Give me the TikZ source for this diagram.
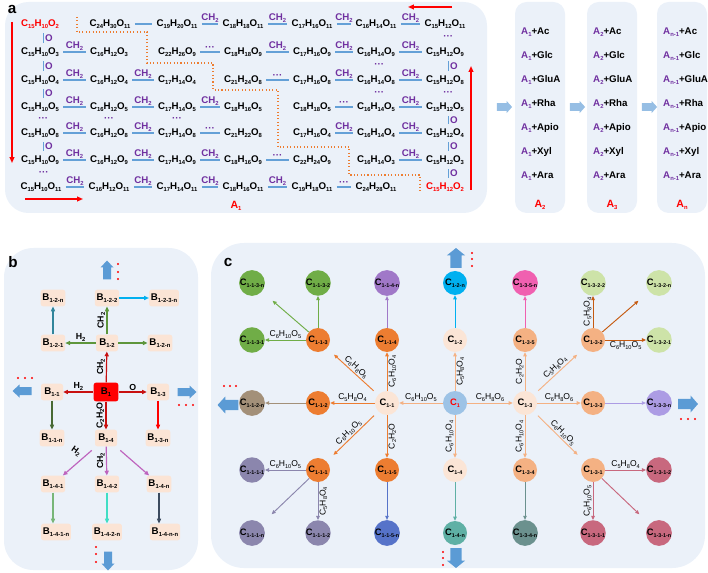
\documentclass[tikz,border=0pt]{standalone}
\usepackage{fontspec}
\setmainfont{Liberation Sans}
\usetikzlibrary{arrows.meta, positioning}

\definecolor{panelbg}{RGB}{235,241,249}
\definecolor{lineblue}{RGB}{100,160,215}
\definecolor{chpurple}{RGB}{112,48,160}
\definecolor{arrowlight}{RGB}{150,190,228}
\definecolor{blockblue}{RGB}{91,155,213}
\definecolor{dotorange}{RGB}{237,125,49}
% panel b
\definecolor{bpeach}{RGB}{251,228,213}
\definecolor{bred}{RGB}{200,16,16}
\definecolor{bgreen}{RGB}{94,150,60}
\definecolor{bteal}{RGB}{49,133,155}
\definecolor{bcyan}{RGB}{0,176,240}
\definecolor{bdkgreen}{RGB}{72,105,52}
\definecolor{bpurple}{RGB}{190,100,190}
\definecolor{blgreen}{RGB}{120,182,120}
\definecolor{bturq}{RGB}{64,222,196}
\definecolor{bslate}{RGB}{60,75,95}
% panel c
\definecolor{cblue}{RGB}{157,195,230}
\definecolor{cpeach}{RGB}{251,229,214}
\definecolor{corange}{RGB}{237,125,49}
\definecolor{corlight}{RGB}{244,177,131}
\definecolor{cgreen}{RGB}{112,173,71}
\definecolor{cviolet}{RGB}{160,120,200}
\definecolor{ccyan}{RGB}{0,176,240}
\definecolor{cpink}{RGB}{240,96,176}
\definecolor{clime}{RGB}{205,227,168}
\definecolor{cdkorange}{RGB}{197,90,17}
\definecolor{ctaupe}{RGB}{163,144,121}
\definecolor{clav}{RGB}{172,156,228}
\definecolor{cgrape}{RGB}{139,134,173}
\definecolor{croyal}{RGB}{86,115,201}
\definecolor{cteal}{RGB}{95,176,165}
\definecolor{cslate}{RGB}{107,145,142}
\definecolor{crose}{RGB}{200,104,126}

\newcommand\ix[2][5]{\raisebox{-0.35ex}{\fontsize{#1}{#1}\selectfont #2}}
\newcommand\fml[3]{C\ix{#1}H\ix{#2}O\ix{#3}}
\newcommand\cf[3]{C\ix[4.8]{#1}H\ix[4.8]{#2}O\ix[4.8]{#3}}

\begin{document}
\begin{tikzpicture}[x=0.03cm, y=-0.03cm,
  every node/.style={font=\fontsize{8.3}{9}\selectfont\bfseries},
  form/.style={inner sep=1pt},
  lnk/.style={draw=lineblue, line width=1.2pt, shorten <=2.5pt, shorten >=2.5pt},
  ch/.style={midway, above, inner sep=0.6pt, text=chpurple},
  vlnk/.style={draw=lineblue, line width=1.2pt, shorten <=3pt, shorten >=3pt},
  ox/.style={midway, right, inner sep=1pt, text=chpurple},
  vdots/.style={midway, inner sep=0pt, text=chpurple},
  redarrow/.style={red, line width=1.2pt, -{Triangle[length=5pt,width=4pt]}},
  stair/.style={dotorange, dotted, line width=0.9pt},
  alist/.style={anchor=west, inner sep=0pt},
  redlab/.style={text=red, font=\fontsize{9}{10}\selectfont\bfseries},
  panellab/.style={font=\fontsize{13}{13}\selectfont\bfseries},
  bn/.style={fill=bpeach, rounded corners=2pt, minimum height=0.5cm,
             minimum width=0.66cm, inner sep=1.5pt},
  barrow/.style={-{Triangle[length=4pt,width=3.5pt]}, line width=1pt},
  blbl/.style={font=\fontsize{7.5}{8}\selectfont\bfseries, inner sep=1pt, text=black},
  cn/.style={circle, minimum size=0.72cm, inner sep=0pt,
             font=\fontsize{8}{8}\selectfont\bfseries},
  carrow/.style={-{Triangle[length=3.5pt,width=3pt]}, line width=0.8pt},
  clbl/.style={font=\fontsize{7.3}{8}\selectfont, inner sep=1pt, text=black},
  diag/.style={shorten <=5pt, shorten >=8pt},
  bigarrow/.pic={\fill (-9.5,-4) -- (2.5,-4) -- (2.5,-6.5) -- (9.5,0)
                   -- (2.5,6.5) -- (2.5,4) -- (-9.5,4) -- cycle;}
]
\useasboundingbox (0,0) rectangle (708,573);

%% ─── Panel a ────────────────────────────────────────────────────────────────
\fill[panelbg, rounded corners=20pt] (5,2) rectangle (487,213);
\node[panellab] (laba) at (12,9) {a};

% row 1
\node[form, text=red] (a1) at (40,24)  {\fml{15}{10}{2}};
\node[form] (b1) at (110,24) {\fml{24}{30}{11}};
\node[form] (c1) at (177,24) {\fml{19}{20}{11}};
\node[form] (d1) at (243,24) {\fml{18}{18}{11}};
\node[form] (e1) at (312,24) {\fml{17}{16}{11}};
\node[form] (f1) at (376,24) {\fml{16}{14}{11}};
\node[form] (g1) at (445,24) {\fml{15}{12}{11}};
% row 2
\node[form] (a2) at (40,52)  {\fml{15}{10}{3}};
\node[form] (b2) at (109,52) {\fml{16}{12}{3}};
\node[form] (c2) at (177,52) {\fml{22}{26}{9}};
\node[form] (d2) at (243,52) {\fml{18}{18}{9}};
\node[form] (e2) at (312,52) {\fml{17}{16}{9}};
\node[form] (f2) at (376,52) {\fml{16}{14}{9}};
\node[form] (g2) at (445,52) {\fml{15}{12}{9}};
% row 3
\node[form] (a3) at (40,80)  {\fml{15}{10}{4}};
\node[form] (b3) at (109,80) {\fml{16}{12}{4}};
\node[form] (c3) at (177,80) {\fml{17}{14}{4}};
\node[form] (d3) at (243,80) {\fml{21}{24}{8}};
\node[form] (e3) at (312,80) {\fml{17}{16}{8}};
\node[form] (f3) at (376,80) {\fml{16}{14}{8}};
\node[form] (g3) at (445,80) {\fml{15}{12}{8}};
% row 4
\node[form] (a4) at (40,107)  {\fml{15}{10}{5}};
\node[form] (b4) at (109,107) {\fml{16}{12}{5}};
\node[form] (c4) at (177,107) {\fml{17}{14}{5}};
\node[form] (d4) at (243,107) {\fml{18}{16}{5}};
\node[form] (e4) at (312,107) {\fml{18}{18}{5}};
\node[form] (f4) at (376,107) {\fml{16}{14}{5}};
\node[form] (g4) at (445,107) {\fml{15}{12}{5}};
% row 5
\node[form] (a5) at (40,133)  {\fml{15}{10}{8}};
\node[form] (b5) at (109,133) {\fml{16}{12}{8}};
\node[form] (c5) at (177,133) {\fml{17}{14}{8}};
\node[form] (d5) at (243,133) {\fml{21}{22}{8}};
\node[form] (e5) at (312,133) {\fml{17}{16}{4}};
\node[form] (f5) at (376,133) {\fml{16}{14}{4}};
\node[form] (g5) at (445,133) {\fml{15}{12}{4}};
% row 6
\node[form] (a6) at (40,160)  {\fml{15}{10}{9}};
\node[form] (b6) at (109,160) {\fml{16}{12}{9}};
\node[form] (c6) at (177,160) {\fml{17}{14}{9}};
\node[form] (d6) at (243,160) {\fml{18}{16}{9}};
\node[form] (e6) at (312,160) {\fml{22}{24}{9}};
\node[form] (f6) at (376,160) {\fml{16}{14}{3}};
\node[form] (g6) at (445,160) {\fml{15}{12}{3}};
% row 7
\node[form] (a7) at (41,187)  {\fml{15}{10}{11}};
\node[form] (b7) at (109,187) {\fml{16}{12}{11}};
\node[form] (c7) at (177,187) {\fml{17}{14}{11}};
\node[form] (d7) at (243,187) {\fml{18}{16}{11}};
\node[form] (e7) at (312,187) {\fml{19}{18}{11}};
\node[form] (f7) at (376,187) {\fml{24}{28}{11}};
\node[form, text=red] (g7) at (445,187) {\fml{15}{12}{2}};

% horizontal links
\draw[lnk] (b1) -- (c1);
\draw[lnk] (c1) -- node[ch]{CH\ix{2}} (d1);
\draw[lnk] (d1) -- node[ch]{CH\ix{2}} (e1);
\draw[lnk] (e1) -- node[ch]{CH\ix{2}} (f1);
\draw[lnk] (f1) -- node[ch]{CH\ix{2}} (g1);
\draw[lnk] (a2) -- node[ch]{CH\ix{2}} (b2);
\draw[lnk] (c2) -- node[ch]{···} (d2);
\draw[lnk] (d2) -- node[ch]{CH\ix{2}} (e2);
\draw[lnk] (e2) -- node[ch]{CH\ix{2}} (f2);
\draw[lnk] (f2) -- node[ch]{CH\ix{2}} (g2);
\draw[lnk] (a3) -- node[ch]{CH\ix{2}} (b3);
\draw[lnk] (b3) -- node[ch]{CH\ix{2}} (c3);
\draw[lnk] (d3) -- node[ch]{···} (e3);
\draw[lnk] (e3) -- node[ch]{CH\ix{2}} (f3);
\draw[lnk] (f3) -- node[ch]{CH\ix{2}} (g3);
\draw[lnk] (a4) -- node[ch]{CH\ix{2}} (b4);
\draw[lnk] (b4) -- node[ch]{CH\ix{2}} (c4);
\draw[lnk] (c4) -- node[ch]{CH\ix{2}} (d4);
\draw[lnk] (e4) -- node[ch]{···} (f4);
\draw[lnk] (f4) -- node[ch]{CH\ix{2}} (g4);
\draw[lnk] (a5) -- node[ch]{CH\ix{2}} (b5);
\draw[lnk] (b5) -- node[ch]{CH\ix{2}} (c5);
\draw[lnk] (c5) -- node[ch]{···} (d5);
\draw[lnk] (e5) -- node[ch]{CH\ix{2}} (f5);
\draw[lnk] (f5) -- node[ch]{CH\ix{2}} (g5);
\draw[lnk] (a6) -- node[ch]{CH\ix{2}} (b6);
\draw[lnk] (b6) -- node[ch]{CH\ix{2}} (c6);
\draw[lnk] (c6) -- node[ch]{CH\ix{2}} (d6);
\draw[lnk] (d6) -- node[ch]{···} (e6);
\draw[lnk] (f6) -- node[ch]{CH\ix{2}} (g6);
\draw[lnk] (a7) -- node[ch]{CH\ix{2}} (b7);
\draw[lnk] (b7) -- node[ch]{CH\ix{2}} (c7);
\draw[lnk] (c7) -- node[ch]{CH\ix{2}} (d7);
\draw[lnk] (d7) -- node[ch]{CH\ix{2}} (e7);
\draw[lnk] (e7) -- node[ch]{···} (f7);

% vertical links
\draw[vlnk] ([xshift=2.8pt]a1.south) -- node[ox]{O} ([xshift=2.8pt]a2.north);
\draw[vlnk] ([xshift=2.8pt]a2.south) -- node[ox]{O} ([xshift=2.8pt]a3.north);
\draw[vlnk] ([xshift=2.8pt]a3.south) -- node[ox]{O} ([xshift=2.8pt]a4.north);
\path ([xshift=2.8pt]a4.south) -- node[vdots]{···} ([xshift=2.8pt]a5.north);
\draw[vlnk] ([xshift=2.8pt]a5.south) -- node[ox]{O} ([xshift=2.8pt]a6.north);
\path ([xshift=2.8pt]a6.south) -- node[vdots]{···} ([xshift=2.8pt]a7.north);
\path (b4.south) -- node[vdots]{···} (b5.north);
\path (c4.south) -- node[vdots]{···} (c5.north);
\path ([xshift=2.8pt]f2.south) -- node[vdots]{···} ([xshift=2.8pt]f3.north);
\path ([xshift=2.8pt]f3.south) -- node[vdots]{···} ([xshift=2.8pt]f4.north);
\path ([xshift=2.8pt]g1.south) -- node[vdots]{···} ([xshift=2.8pt]g2.north);
\draw[vlnk] ([xshift=2.8pt]g2.south) -- node[ox]{O} ([xshift=2.8pt]g3.north);
\path ([xshift=2.8pt]g3.south) -- node[vdots]{···} ([xshift=2.8pt]g4.north);
\draw[vlnk] ([xshift=2.8pt]g4.south) -- node[ox]{O} ([xshift=2.8pt]g5.north);
\draw[vlnk] ([xshift=2.8pt]g5.south) -- node[ox]{O} ([xshift=2.8pt]g6.north);
\draw[vlnk] ([xshift=2.8pt]g6.south) -- node[ox]{O} ([xshift=2.8pt]g7.north);

% staircase border and red direction arrows
\draw[stair] (77,17) -- (77,32) -- (147,32) -- (147,63) -- (213,63) -- (213,90)
  -- (278,90) -- (278,147) -- (349,147) -- (349,175) -- (420,175) -- (420,193);
\coordinate (rl1) at (12,22);   \coordinate (rl2) at (12,163);
\coordinate (rb1) at (25,199);  \coordinate (rb2) at (83,199);
\coordinate (rt1) at (452,7);   \coordinate (rt2) at (408,7);
\coordinate (rr1) at (471,190); \coordinate (rr2) at (471,66);
\draw[redarrow] (rl1) -- (rl2);
\draw[redarrow] (rb1) -- (rb2);
\draw[redarrow] (rt1) -- (rt2);
\draw[redarrow] (rr1) -- (rr2);
\node[redlab] (A1) at (236,206) {A\ix{1}};

% glycosylation columns
\foreach \bx/\ai/\al in {515/1/2, 587/2/3, 657/{n-1}/n} {
  \fill[panelbg, rounded corners=10pt] (\bx,2) rectangle ++(50,211);
  \foreach \s [count=\r] in {Ac,Glc,GluA,Rha,Apio,Xyl,Ara}
    \node[alist] (A\al-\r) at (\bx+6, 8+24*\r) {\textcolor{chpurple}{A\ix{\ai}}+\s};
  \node[redlab] (A\al) at (\bx+25, 205) {A\ix{\al}};
}
\foreach \ax in {504.5, 577.5, 649.5}
  \pic[fill=arrowlight, xscale=0.8, yscale=0.95] at (\ax,107) {bigarrow};

%% ─── Panel b ────────────────────────────────────────────────────────────────
\fill[panelbg, rounded corners=25pt] (4,248) rectangle (198,570);
\node[panellab] (labb) at (13,262) {b};

\node[bn] (b12n)  at (53,298)  {B\ix{1-2-n}};
\node[bn] (b122)  at (107,298) {B\ix{1-2-2}};
\node[bn] (b123n) at (164,298) {B\ix{1-2-3-n}};
\node[bn] (b121)  at (53,343)  {B\ix{1-2-1}};
\node[bn] (b12)   at (107,343) {B\ix{1-2}};
\node[bn] (b12m)  at (160,343) {B\ix{1-2-n}};
\node[bn] (b11)   at (52,392)  {B\ix{1-1}};
\node[bn, fill=red, minimum width=0.74cm, minimum height=0.56cm] (b1) at (106,392) {B\ix{1}};
\node[bn] (b13)   at (158,392) {B\ix{1-3}};
\node[bn] (b11n)  at (52,438)  {B\ix{1-1-n}};
\node[bn] (b14)   at (106,438) {B\ix{1-4}};
\node[bn] (b13n)  at (158,438) {B\ix{1-3-n}};
\node[bn] (b141)  at (53,484)  {B\ix{1-4-1}};
\node[bn] (b142)  at (107,484) {B\ix{1-4-2}};
\node[bn] (b14n)  at (159,484) {B\ix{1-4-n}};
\node[bn] (b141n) at (56,532)  {B\ix{1-4-1-n}};
\node[bn] (b142n) at (107,532) {B\ix{1-4-2-n}};
\node[bn] (b14nn) at (165,532) {B\ix{1-4-n-n}};

\draw[barrow, bred] (b1) -- node[blbl, rotate=90, anchor=south]{CH\ix{2}} (b12);
\draw[barrow, bred] (b1) -- node[blbl, above]{H\ix{2}} (b11);
\draw[barrow, bred] (b1) -- node[blbl, above]{O} (b13);
\draw[barrow, bred] (b1) -- node[blbl, rotate=90, anchor=south]{C\ix{2}H\ix{2}O} (b14);
\draw[barrow, bgreen] (b12) -- node[blbl, rotate=90, anchor=south]{CH\ix{2}} (b122);
\draw[barrow, bgreen] (b12) -- node[blbl, above]{H\ix{2}} (b121);
\draw[barrow, bgreen] (b12) -- (b12m);
\draw[barrow, bteal] (b121) -- (b12n);
\draw[barrow, bcyan] (b122) -- (b123n);
\draw[barrow, bdkgreen] (b11) -- (b11n);
\draw[barrow, red] (b13) -- (b13n);
\draw[barrow, bpurple, shorten <=5pt] (b14) -- node[blbl, xshift=-3pt, yshift=8pt, rotate=-35]{H\ix{2}} (b141);
\draw[barrow, bpurple] (b14) -- node[blbl, rotate=90, anchor=south]{CH\ix{2}} (b142);
\draw[barrow, bpurple, shorten <=5pt] (b14) -- (b14n);
\draw[barrow, blgreen] (b141) -- (b141 |- b141n.north);
\draw[barrow, bturq] (b142) -- (b142n);
\draw[barrow, bslate] (b14n) -- (b14n |- b14nn.north);

\pic[fill=blockblue, rotate=90] at (107,270) {bigarrow};
\pic[fill=blockblue, rotate=180] at (22,391) {bigarrow};
\pic[fill=blockblue] at (187,392) {bigarrow};
\pic[fill=blockblue, rotate=270] at (108,561) {bigarrow};
\foreach \y in {264,272,279} \fill[red] (118,\y) circle[radius=1.1];
\foreach \x in {18,25,32}    \fill[red] (\x,378) circle[radius=1.1];
\foreach \x in {179,186,193} \fill[red] (\x,405) circle[radius=1.1];
\foreach \y in {547,554,562} \fill[red] (96,\y) circle[radius=1.1];

%% ─── Panel c ────────────────────────────────────────────────────────────────
\fill[panelbg, rounded corners=28pt] (211,243) rectangle (705,568);
\node[panellab] (labc) at (228,262) {c};

% row A
\node[cn, fill=cgreen]  (c113n) at (252,283) {C\ix[4.6]{1-1-3-n}};
\node[cn, fill=cgreen]  (c1132) at (318,283) {C\ix[4.6]{1-1-3-2}};
\node[cn, fill=cviolet] (c114n) at (387,283) {C\ix[4.6]{1-1-4-n}};
\node[cn, fill=ccyan]   (c12n)  at (455,283) {C\ix[4.6]{1-2-n}};
\node[cn, fill=cpink]   (c135n) at (525,283) {C\ix[4.6]{1-3-5-n}};
\node[cn, fill=clime]   (c1322) at (593,283) {C\ix[4.6]{1-3-2-2}};
\node[cn, fill=clime]   (c132n) at (659,283) {C\ix[4.6]{1-3-2-n}};
% row B
\node[cn, fill=cgreen]   (c1131) at (252,340) {C\ix[4.6]{1-1-3-1}};
\node[cn, fill=corange]  (c113)  at (318,340) {C\ix[4.6]{1-1-3}};
\node[cn, fill=corange]  (c114)  at (387,340) {C\ix[4.6]{1-1-4}};
\node[cn, fill=cpeach]   (c12)   at (455,340) {C\ix[4.6]{1-2}};
\node[cn, fill=corlight] (c135)  at (525,340) {C\ix[4.6]{1-3-5}};
\node[cn, fill=corlight] (c132)  at (593,340) {C\ix[4.6]{1-3-2}};
\node[cn, fill=clime]    (c1321) at (659,340) {C\ix[4.6]{1-3-2-1}};
% row C
\node[cn, fill=ctaupe]   (c112n) at (252,403) {C\ix[4.6]{1-1-2-n}};
\node[cn, fill=corange]  (c112)  at (318,403) {C\ix[4.6]{1-1-2}};
\node[cn, fill=cpeach]   (c11)   at (387,403) {C\ix[4.6]{1-1}};
\node[cn, fill=cblue, text=red] (c1) at (455,403) {C\ix[4.6]{1}};
\node[cn, fill=cpeach]   (c13)   at (525,403) {C\ix[4.6]{1-3}};
\node[cn, fill=corlight] (c133)  at (593,403) {C\ix[4.6]{1-3-3}};
\node[cn, fill=clav]     (c133n) at (659,403) {C\ix[4.6]{1-3-3-n}};
% row D
\node[cn, fill=cgrape]   (c1111) at (252,470) {C\ix[4.6]{1-1-1-1}};
\node[cn, fill=corange]  (c111)  at (318,470) {C\ix[4.6]{1-1-1}};
\node[cn, fill=corange]  (c115)  at (387,470) {C\ix[4.6]{1-1-5}};
\node[cn, fill=cpeach]   (c14)   at (455,470) {C\ix[4.6]{1-4}};
\node[cn, fill=corlight] (c134)  at (525,470) {C\ix[4.6]{1-3-4}};
\node[cn, fill=corlight] (c131)  at (593,470) {C\ix[4.6]{1-3-1}};
\node[cn, fill=crose]    (c1312) at (659,470) {C\ix[4.6]{1-3-1-2}};
% row E
\node[cn, fill=cgrape]   (c111n) at (252,533) {C\ix[4.6]{1-1-1-n}};
\node[cn, fill=cgrape]   (c1112) at (318,533) {C\ix[4.6]{1-1-1-2}};
\node[cn, fill=croyal]   (c115n) at (387,533) {C\ix[4.6]{1-1-5-n}};
\node[cn, fill=cteal]    (c14n)  at (455,533) {C\ix[4.6]{1-4-n}};
\node[cn, fill=cslate]   (c134n) at (525,533) {C\ix[4.6]{1-3-4-n}};
\node[cn, fill=crose]    (c1311) at (593,533) {C\ix[4.6]{1-3-1-1}};
\node[cn, fill=crose]    (c131n) at (659,533) {C\ix[4.6]{1-3-1-n}};

% from C1
\draw[carrow, corlight] (c1) -- node[clbl, above]{\cf{6}{10}{5}} (c11);
\draw[carrow, corlight] (c1) -- node[clbl, above]{\cf{6}{8}{6}} (c13);
\draw[carrow, corlight] (c1) -- node[clbl, midway, rotate=90, anchor=north]{\cf{5}{8}{4}} (c12);
\draw[carrow, corlight] (c1) -- node[clbl, midway, rotate=90, anchor=south]{\cf{6}{10}{4}} (c14);
% from C1-1
\draw[carrow, corange] (c11) -- node[clbl, above]{\cf{5}{8}{4}} (c112);
\draw[carrow, corange, diag] (c11) -- node[clbl, midway, sloped, above]{\cf{6}{8}{6}} (c113);
\draw[carrow, corange] (c11) -- node[clbl, midway, rotate=90, anchor=north]{\cf{6}{10}{4}} (c114);
\draw[carrow, corange, diag] (c11) -- node[clbl, midway, sloped, above]{\cf{6}{10}{5}} (c111);
\draw[carrow, corange] (c11) -- node[clbl, midway, rotate=90, anchor=north]{C\ix[4.8]{2}H\ix[4.8]{2}O} (c115);
% from C1-3
\draw[carrow, corlight] (c13) -- node[clbl, midway, rotate=90, anchor=south]{C\ix[4.8]{2}H\ix[4.8]{2}O} (c135);
\draw[carrow, corlight, diag] (c13) -- node[clbl, midway, sloped, above]{\cf{5}{8}{4}} (c132);
\draw[carrow, corlight] (c13) -- node[clbl, above]{\cf{6}{8}{6}} (c133);
\draw[carrow, corlight, diag] (c13) -- node[clbl, midway, sloped, above]{\cf{6}{10}{5}} (c131);
\draw[carrow, corlight] (c13) -- node[clbl, midway, rotate=90, anchor=south]{\cf{6}{10}{4}} (c134);
% outer branches
\draw[carrow, cgreen] (c113) -- node[clbl, above]{\cf{6}{10}{5}} (c1131);
\draw[carrow, cgreen] (c113) -- (c1132);
\draw[carrow, cgreen, shorten >=12pt] (c113) -- (c113n);
\draw[carrow, cviolet] (c114) -- (c114n);
\draw[carrow, ccyan] (c12) -- (c12n);
\draw[carrow, cpink] (c135) -- (c135n);
\draw[carrow, cdkorange] (c132) -- node[clbl, midway, rotate=90, anchor=south]{\cf{5}{8}{4}} (c1322);
\draw[carrow, cdkorange, shorten >=12pt] (c132) -- (c132n);
\draw[carrow, cdkorange] (c132) -- node[clbl, below]{\cf{6}{10}{5}} (c1321);
\draw[carrow, clav] (c133) -- (c133n);
\draw[carrow, crose] (c131) -- node[clbl, above]{\cf{5}{8}{4}} (c1312);
\draw[carrow, crose] (c131) -- node[clbl, midway, rotate=90, anchor=south]{\cf{6}{10}{5}} (c1311);
\draw[carrow, crose, shorten >=12pt] (c131) -- (c131n);
\draw[carrow, cteal] (c14) -- (c14n);
\draw[carrow, cslate] (c134) -- (c134n);
\draw[carrow, ctaupe] (c112) -- (c112n);
\draw[carrow, cgrape] (c111) -- node[clbl, above]{\cf{6}{10}{5}} (c1111);
\draw[carrow, cgrape] (c111) -- node[clbl, midway, rotate=90, anchor=north]{\cf{5}{8}{4}} (c1112);
\draw[carrow, cgrape, shorten >=12pt] (c111) -- (c111n);
\draw[carrow, croyal] (c115) -- (c115n);

\pic[fill=blockblue, rotate=90, xscale=1.05, yscale=1.4] at (456,258) {bigarrow};
\pic[fill=blockblue, rotate=180, xscale=1.1, yscale=1.3] at (228,405) {bigarrow};
\pic[fill=blockblue, xscale=1.05, yscale=1.3] at (688,404) {bigarrow};
\pic[fill=blockblue, rotate=270, xscale=1.05, yscale=1.4] at (456,558) {bigarrow};
\foreach \y in {253,259,266} \fill[red] (472,\y) circle[radius=1.1];
\foreach \x in {224,230,236} \fill[red] (\x,386) circle[radius=1.1];
\foreach \x in {681,688,695} \fill[red] (\x,419) circle[radius=1.1];
\foreach \y in {552,558,565} \fill[red] (443,\y) circle[radius=1.1];

\end{tikzpicture}
\end{document}
